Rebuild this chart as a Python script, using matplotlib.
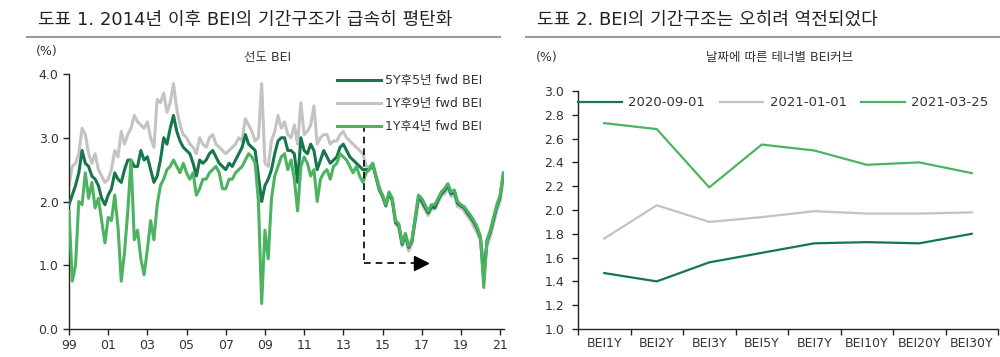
import numpy as np
import matplotlib
matplotlib.use("Agg")
import matplotlib.pyplot as plt

plt.rcParams["font.family"] = ["DejaVu Sans", "Noto Sans CJK KR"]
plt.rcParams["axes.unicode_minus"] = False

# 선도 BEI (%), 두 달 간격 (1999.0 ~ 2021.17)
dates = 1999 + np.arange(134) / 6

fwd_1y4y = [
    1.85, 0.75, 1.00, 2.00, 1.95, 2.45,   # 1999
    2.05, 2.30, 1.90, 2.05, 1.70, 1.35,   # 2000
    1.75, 1.70, 2.10, 1.60, 0.75, 1.20,   # 2001
    1.85, 2.65, 1.40, 1.55, 1.10, 0.85,   # 2002
    1.25, 1.70, 1.40, 1.95, 2.25, 2.35,   # 2003
    2.50, 2.55, 2.65, 2.55, 2.45, 2.60,   # 2004
    2.45, 2.35, 2.45, 2.10, 2.20, 2.35,   # 2005
    2.35, 2.45, 2.50, 2.55, 2.45, 2.20,   # 2006
    2.20, 2.35, 2.35, 2.45, 2.50, 2.55,   # 2007
    2.65, 2.75, 2.70, 2.60, 2.00, 0.40,   # 2008
    1.55, 1.10, 2.05, 2.40, 2.55, 2.70,   # 2009
    2.75, 2.50, 2.65, 2.35, 1.85, 2.55,   # 2010
    2.70, 2.60, 2.40, 2.50, 2.00, 2.35,   # 2011
    2.45, 2.50, 2.35, 2.55, 2.60, 2.75,   # 2012
    2.70, 2.65, 2.55, 2.45, 2.55, 2.40,   # 2013
    2.30, 2.45, 2.50, 2.60, 2.40, 2.20,   # 2014
    2.10, 1.95, 2.15, 2.05, 1.70, 1.65,   # 2015
    1.35, 1.50, 1.30, 1.40, 1.75, 2.10,   # 2016
    2.05, 1.95, 1.85, 1.95, 1.95, 2.05,   # 2017
    2.15, 2.20, 2.28, 2.15, 2.18, 2.00,   # 2018
    1.95, 1.92, 1.85, 1.78, 1.70, 1.60,   # 2019
    1.45, 0.65, 1.40, 1.55, 1.75, 1.95,   # 2020
    2.10, 2.45,                           # 2021
]
fwd_5y5y = [
    1.95, 2.10, 2.25, 2.45, 2.80, 2.60,
    2.55, 2.40, 2.35, 2.25, 2.05, 1.95,
    2.10, 2.20, 2.45, 2.35, 2.30, 2.50,
    2.65, 2.65, 2.55, 2.55, 2.80, 2.65,
    2.70, 2.50, 2.30, 2.40, 2.65, 3.00,
    2.90, 3.15, 3.35, 3.10, 2.95, 2.85,
    2.80, 2.75, 2.60, 2.40, 2.65, 2.60,
    2.65, 2.75, 2.80, 2.70, 2.60, 2.55,
    2.50, 2.60, 2.55, 2.65, 2.75, 2.85,
    3.05, 2.90, 2.85, 2.80, 2.40, 2.00,
    2.25, 2.35, 2.50, 2.75, 2.95, 3.00,
    3.00, 2.80, 2.80, 2.75, 2.30, 3.00,
    2.80, 2.75, 2.90, 2.80, 2.50, 2.65,
    2.80, 2.70, 2.60, 2.65, 2.70, 2.85,
    2.90, 2.80, 2.70, 2.65, 2.60, 2.55,
    2.50, 2.50, 2.50, 2.58, 2.38, 2.18,
    2.08, 1.93, 2.13, 2.02, 1.67, 1.62,
    1.33, 1.48, 1.28, 1.38, 1.72, 2.06,
    2.01, 1.91, 1.82, 1.92, 1.90, 2.02,
    2.12, 2.17, 2.25, 2.12, 2.15, 1.97,
    1.93, 1.90, 1.82, 1.75, 1.67, 1.57,
    1.42, 0.80, 1.38, 1.52, 1.72, 1.92,
    2.07, 2.42,
]
fwd_1y9y = [
    2.25, 2.55, 2.60, 2.75, 3.15, 3.05,
    2.75, 2.60, 2.75, 2.50, 2.40, 2.30,
    2.35, 2.50, 2.80, 2.70, 3.10, 2.90,
    3.05, 3.15, 3.35, 3.25, 3.20, 3.15,
    3.25, 3.00, 2.85, 3.60, 3.55, 3.70,
    3.40, 3.55, 3.85, 3.45, 3.20, 3.05,
    3.00, 2.90, 2.85, 2.75, 3.00, 2.90,
    2.85, 3.00, 3.05, 2.90, 2.85, 2.80,
    2.75, 2.80, 2.85, 2.90, 3.00, 2.95,
    3.30, 3.20, 3.10, 2.95, 3.00, 3.85,
    2.60, 2.55, 2.95, 3.10, 3.35, 3.15,
    3.25, 3.05, 3.00, 3.20, 2.90, 3.55,
    3.05, 3.10, 3.20, 3.50, 2.90, 3.00,
    3.05, 3.05, 2.90, 2.95, 2.95, 3.05,
    3.10, 3.00, 2.95, 2.90, 2.85, 2.80,
    2.75, 2.55, 2.55, 2.60, 2.40, 2.25,
    2.10, 1.95, 2.12, 2.00, 1.65, 1.58,
    1.30, 1.42, 1.22, 1.33, 1.68, 2.02,
    1.97, 1.87, 1.78, 1.88, 1.88, 1.98,
    2.08, 2.12, 2.20, 2.08, 2.10, 1.92,
    1.90, 1.85, 1.77, 1.70, 1.60, 1.50,
    1.40, 1.10, 1.30, 1.45, 1.65, 1.85,
    2.00, 2.38,
]
year_ticks = list(range(1999, 2022, 2))
year_labels = ["%02d" % (y % 100) for y in year_ticks]

# 날짜에 따른 테너별 BEI 커브 (%)
tenors = ["BEI1Y", "BEI2Y", "BEI3Y", "BEI5Y", "BEI7Y", "BEI10Y", "BEI20Y", "BEI30Y"]
curve_200901 = [1.47, 1.40, 1.56, 1.64, 1.72, 1.73, 1.72, 1.80]
curve_210101 = [1.76, 2.04, 1.90, 1.94, 1.99, 1.97, 1.97, 1.98]
curve_210325 = [2.73, 2.68, 2.19, 2.55, 2.50, 2.38, 2.40, 2.31]

DARK = "#17774a"
GRAY = "#c3c3c3"
LIGHT = "#4cb461"
TXT = "#333333"
FS = 9

fig = plt.figure(figsize=(10, 3.57), dpi=100)

# 헤더
fig.text(0.038, 0.945, "도표 1. 2014년 이후 BEI의 기간구조가 급속히 평탄화",
         fontsize=13, color="#222222", va="center")
fig.text(0.537, 0.945, "도표 2. BEI의 기간구조는 오히려 역전되었다",
         fontsize=13, color="#222222", va="center")
fig.add_artist(plt.Line2D([0.027, 0.500], [0.897, 0.897], color="#9a9a9a", lw=1.5))
fig.add_artist(plt.Line2D([0.526, 1.000], [0.897, 0.897], color="#9a9a9a", lw=1.5))


def style_axes(ax):
    for s in ["top", "right"]:
        ax.spines[s].set_visible(False)
    for s in ["left", "bottom"]:
        ax.spines[s].set_color("#222222")
        ax.spines[s].set_linewidth(1.0)
    ax.tick_params(direction="out", length=4, width=1.0, color="#222222",
                   labelsize=FS, labelcolor=TXT)


# 왼쪽: 선도 BEI
ax1 = fig.add_axes([0.069, 0.0784, 0.435, 0.7143])
style_axes(ax1)
ax1.plot(dates, fwd_1y9y, color=GRAY, lw=2.2, label="1Y후9년 fwd BEI", zorder=2)
ax1.plot(dates, fwd_5y5y, color=DARK, lw=2.2, label="5Y후5년 fwd BEI", zorder=3)
ax1.plot(dates, fwd_1y4y, color=LIGHT, lw=2.2, label="1Y후4년 fwd BEI", zorder=4)
ax1.set_xlim(1999, 2021.2)
ax1.set_ylim(0, 4)
ax1.set_yticks([0, 1, 2, 3, 4])
ax1.set_yticklabels(["%.1f" % v for v in [0, 1, 2, 3, 4]])
ax1.set_xticks(year_ticks)
ax1.set_xticklabels(year_labels)

# 평탄화 표시 화살표
ax1.plot([2014.07, 2014.07], [3.2, 1.03], color="k", lw=1.2, ls=(0, (4, 3)), zorder=5)
ax1.plot([2014.07, 2016.8], [1.03, 1.03], color="k", lw=1.2, ls=(0, (4, 3)), zorder=5)
ax1.plot([2016.95], [1.03], marker=">", color="k", markersize=10, zorder=5)

h, l = ax1.get_legend_handles_labels()
order = [1, 0, 2]
ax1.legend([h[i] for i in order], [l[i] for i in order], loc="upper left",
           bbox_to_anchor=(0.337, 1 - 74 / 357), bbox_transform=fig.transFigure,
           frameon=False, fontsize=FS, handlelength=3.5, handletextpad=0.35,
           labelspacing=0.8, borderpad=0, borderaxespad=0,
           labelcolor=TXT)
fig.text(0.268, 1 - 57 / 357, "선도 BEI", fontsize=FS, color=TXT,
         ha="center", va="center")
fig.text(0.047, 1 - 52 / 357, "(%)", fontsize=FS, color=TXT,
         ha="center", va="center")

# 오른쪽: 테너별 BEI 커브
ax2 = fig.add_axes([0.578, 0.0784, 0.42, 0.6667])
style_axes(ax2)
x = np.arange(len(tenors))
ax2.plot(x, curve_200901, color=DARK, lw=1.6, label="2020-09-01")
ax2.plot(x, curve_210101, color=GRAY, lw=1.6, label="2021-01-01")
ax2.plot(x, curve_210325, color=LIGHT, lw=1.6, label="2021-03-25")
ax2.set_xlim(-0.5, len(tenors) - 0.5)
ax2.set_ylim(1.0, 3.0)
yt = np.arange(1.0, 3.01, 0.2)
ax2.set_yticks(yt)
ax2.set_yticklabels(["%.1f" % v for v in yt])
ax2.set_xticks(np.arange(-0.5, len(tenors), 1.0))
ax2.set_xticklabels([])
ax2.set_xticks(x, minor=True)
ax2.set_xticklabels(tenors, minor=True)
ax2.tick_params(axis="x", which="minor", length=0, labelsize=FS,
                labelcolor=TXT, pad=6)
ax2.tick_params(axis="y", pad=6)
ax2.legend(loc="center left", bbox_to_anchor=(0.0, 2.9), bbox_transform=ax2.get_yaxis_transform(),
           ncol=3, frameon=False, fontsize=9.5, handlelength=3.3,
           handletextpad=0.5, columnspacing=1.1, borderpad=0, borderaxespad=0,
           labelcolor=TXT)
fig.text(0.780, 1 - 58 / 357, "날짜에 따른 테너별 BEI커브", fontsize=FS,
         color=TXT, ha="center", va="center")
fig.text(0.547, 1 - 58 / 357, "(%)", fontsize=FS, color=TXT,
         ha="center", va="center")

fig.savefig("out.png", dpi=100)
